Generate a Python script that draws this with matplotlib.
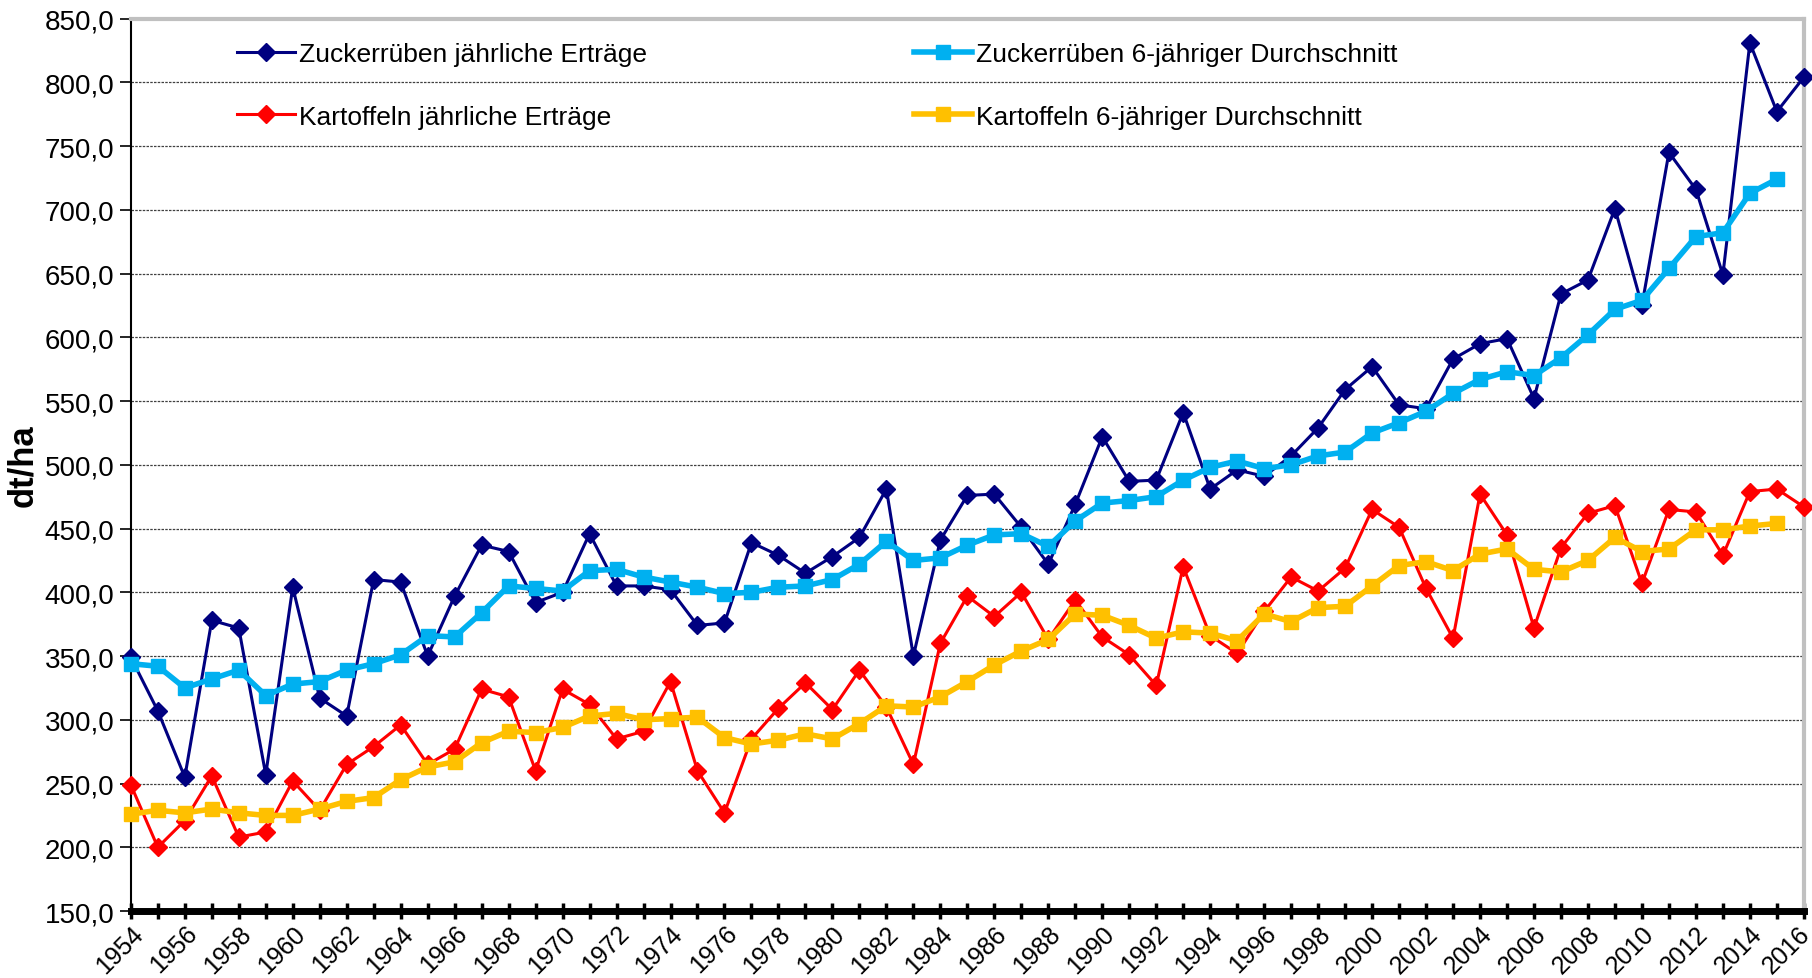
import matplotlib.pyplot as plt
import numpy as np
from matplotlib.ticker import FuncFormatter, MultipleLocator
from matplotlib.transforms import ScaledTranslation

plt.rcParams['font.family'] = ['Liberation Sans', 'DejaVu Sans']

years = list(range(1954, 2017))
avg_years = list(range(1954, 2016))

zucker_jahr = [349, 307, 255, 378, 372, 257, 404, 317, 303, 410,
               408, 350, 397, 437, 432, 392, 400, 446, 405, 405,
               402, 374, 376, 439, 429, 415, 428, 443, 481, 350,
               441, 476, 477, 451, 422, 469, 522, 487, 488, 541,
               481, 496, 491, 507, 529, 559, 577, 547, 544, 583,
               595, 599, 552, 634, 645, 701, 625, 745, 716, 649,
               831, 777, 804]

zucker_avg = [344, 342, 325, 332, 339, 319, 328, 330, 339, 344,
              351, 366, 365, 384, 405, 403, 401, 417, 418, 412,
              408, 404, 399, 400, 404, 405, 410, 422, 440, 425,
              427, 437, 445, 446, 436, 456, 470, 472, 475, 488,
              498, 503, 497, 500, 507, 510, 525, 533, 542, 556,
              567, 573, 570, 584, 602, 622, 629, 654, 679, 682,
              713, 724]

kartoffel_jahr = [249, 200, 221, 256, 208, 212, 252, 229, 265, 279,
                  296, 265, 277, 324, 318, 260, 324, 312, 285, 291,
                  330, 260, 227, 285, 309, 329, 308, 339, 310, 265,
                  360, 397, 381, 400, 363, 394, 365, 351, 327, 420,
                  366, 352, 385, 412, 401, 419, 465, 451, 403, 364,
                  477, 445, 372, 435, 462, 468, 407, 465, 463, 429,
                  479, 481, 467]

kartoffel_avg = [226, 229, 227, 230, 227, 225, 225, 230, 236, 239,
                 253, 263, 267, 282, 291, 290, 294, 303, 305, 300,
                 301, 302, 286, 281, 284, 289, 285, 297, 311, 310,
                 318, 330, 343, 354, 363, 383, 382, 374, 364, 369,
                 368, 362, 383, 377, 388, 389, 405, 421, 424, 417,
                 430, 434, 418, 416, 425, 443, 432, 434, 449, 449,
                 452, 454]

fig = plt.figure(figsize=(18.12, 9.79), dpi=100)
ax = fig.add_axes([0.0722, 0.0684, 0.9233, 0.9116])

h1, = ax.plot(years, zucker_jahr, '-D', color='#000080', lw=2.2, ms=9,
              label='Zuckerrüben jährliche Erträge', clip_on=False, zorder=3)
h2, = ax.plot(avg_years, zucker_avg, '-s', color='#00B0F0', lw=4, ms=10,
              label='Zuckerrüben 6-jähriger Durchschnitt', clip_on=False, zorder=4)
h3, = ax.plot(years, kartoffel_jahr, '-D', color='#FF0000', lw=2.2, ms=9,
              label='Kartoffeln jährliche Erträge', clip_on=False, zorder=5)
h4, = ax.plot(avg_years, kartoffel_avg, '-s', color='#FFC000', lw=4, ms=10,
              label='Kartoffeln 6-jähriger Durchschnitt', clip_on=False, zorder=6)

ax.set_xlim(1954, 2016)
ax.set_ylim(150, 850)
ax.yaxis.set_major_locator(MultipleLocator(50))
ax.yaxis.set_major_formatter(FuncFormatter(lambda v, p: f"{v:.1f}".replace('.', ',')))
ax.set_xticks(years, minor=True)
ax.set_xticks(list(range(1954, 2017, 2)))
ax.tick_params(axis='x', which='both', direction='inout', length=12, width=2.5)
ax.tick_params(axis='x', which='major', labelsize=18, labelrotation=45, pad=1)
ax.tick_params(axis='y', direction='out', length=8, width=1.2, labelsize=20, pad=4)
xlabels = ax.get_xticklabels()
for lbl in xlabels:
    lbl.set_ha('right')
    lbl.set_rotation_mode('anchor')
# keep the last year label inside the figure
xlabels[-1].set_transform(xlabels[-1].get_transform()
                          + ScaledTranslation(-0.06, 0, fig.dpi_scale_trans))

ax.grid(axis='y', linestyle=(0, (2, 1)), color='#404040', lw=0.9)
ax.set_axisbelow(True)

ax.spines['left'].set_linewidth(1.5)
ax.spines['bottom'].set_linewidth(5)
ax.spines['top'].set_color('#c0c0c0')
ax.spines['top'].set_linewidth(3)
ax.spines['right'].set_color('#c0c0c0')
ax.spines['right'].set_linewidth(3)

ax.set_ylabel('dt/ha', fontsize=25, fontweight='bold', labelpad=4)

ax.legend(handles=[h1, h3, h2, h4], ncol=2, frameon=False, fontsize=19,
          loc='upper left', bbox_to_anchor=(0.0495, 1.0), handlelength=2.2,
          handletextpad=0.15, labelspacing=1.45, columnspacing=10.1)

fig.savefig('out.png', dpi=100)
